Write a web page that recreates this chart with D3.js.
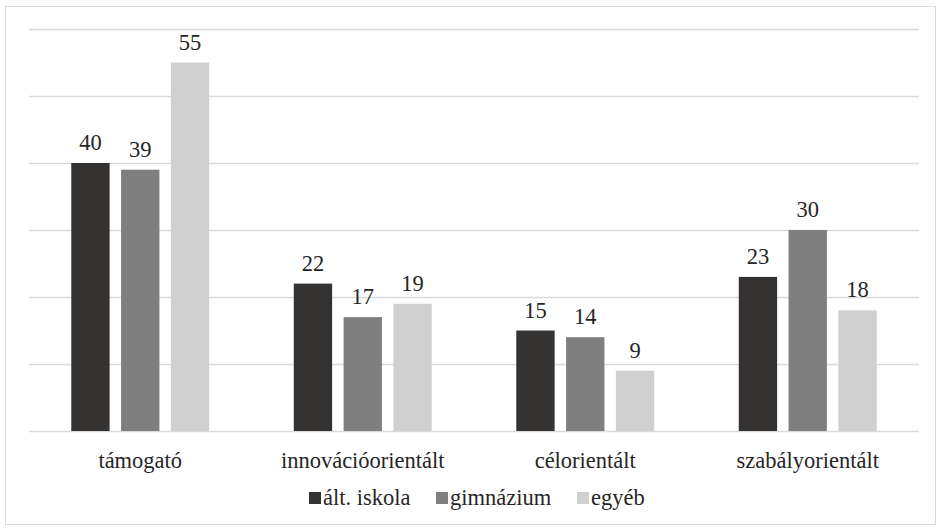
<!DOCTYPE html>
<html>
<head>
<meta charset="utf-8">
<script src="https://cdn.jsdelivr.net/npm/d3@7"></script>
<style>
  body { margin: 0; background: #fff; font-family: 'Times New Roman', 'Liberation Serif', serif; }
  svg, svg text { font-family: 'Times New Roman', 'Liberation Serif', serif; }
</style>
</head>
<body>
<svg id="chart" width="941" height="531" style="font-family: 'Times New Roman', 'Liberation Serif', serif;"></svg>
<script>
// Data
var categories = ["támogató", "innovációorientált", "célorientált", "szabályorientált"];
var seriesNames = ["ált. iskola", "gimnázium", "egyéb"];
var altIskola = [40, 22, 15, 23];
var gimnazium = [39, 17, 14, 30];
var egyeb = [55, 19, 9, 18];
var yTicks = [0, 10, 20, 30, 40, 50, 60];

var seriesValues = [altIskola, gimnazium, egyeb];
var colours = ["#353331", "#7f7f7f", "#d0d0d0"];
var fontSize = "22.5px";
var textColour = "#262626";

var svgwidth = 941, svgheight = 531;
var margin = {top: 29, bottom: 100, left: 29, right: 22};

var svg = d3.select("#chart");

// outer frame
svg.append("rect")
    .attr("x", 5.5).attr("y", 6.5)
    .attr("width", svgwidth - 11).attr("height", svgheight - 13)
    .attr("fill", "none")
    .attr("stroke", "#d9d9d9");

// Scales
var x0 = d3.scaleBand().domain(categories).range([margin.left, svgwidth - margin.right]);
var x1 = d3.scaleBand().domain(seriesNames)
    .range([x0.bandwidth() * 0.19, x0.bandwidth() * 0.81])
    .paddingInner(0.23).paddingOuter(0);
var y = d3.scaleLinear().domain([0, 60]).range([svgheight - margin.bottom, margin.top]);

// gridlines
svg.selectAll(".grid")
    .data(yTicks)
    .enter().append("line")
    .attr("class", "grid")
    .attr("x1", margin.left).attr("x2", svgwidth - margin.right)
    .attr("y1", function(d){ return Math.round(y(d)) + 0.5; })
    .attr("y2", function(d){ return Math.round(y(d)) + 0.5; })
    .attr("stroke", "#d9d9d9")
    .attr("stroke-width", 1.5);

// bars
var rows = [];
categories.forEach(function(c, i){
    seriesNames.forEach(function(s, j){
        rows.push({cat: c, series: s, idx: j, value: seriesValues[j][i]});
    });
});

svg.selectAll(".bar")
    .data(rows)
    .enter().append("rect")
    .attr("class", "bar")
    .attr("x", function(d){ return x0(d.cat) + x1(d.series); })
    .attr("y", function(d){ return y(d.value); })
    .attr("width", x1.bandwidth())
    .attr("height", function(d){ return y(0) - y(d.value); })
    .attr("fill", function(d){ return colours[d.idx]; });

// value labels
svg.selectAll(".lbl")
    .data(rows)
    .enter().append("text")
    .attr("class", "lbl")
    .attr("x", function(d){ return x0(d.cat) + x1(d.series) + x1.bandwidth() / 2; })
    .attr("y", function(d){ return y(d.value) - 13; })
    .attr("text-anchor", "middle")
    .attr("fill", textColour)
    .style("font-size", fontSize)
    .text(function(d){ return d.value; });

// category labels
svg.selectAll(".cat")
    .data(categories)
    .enter().append("text")
    .attr("class", "cat")
    .attr("x", function(d){ return x0(d) + x0.bandwidth() / 2; })
    .attr("y", y(0) + 37)
    .attr("text-anchor", "middle")
    .attr("fill", textColour)
    .style("font-size", fontSize)
    .text(function(d){ return d; });

// legend
var legendX = [309, 436, 577];
var legendY = 505;
svg.selectAll(".lgbox")
    .data(seriesNames)
    .enter().append("rect")
    .attr("class", "lgbox")
    .attr("x", function(d, i){ return legendX[i]; })
    .attr("y", legendY - 13)
    .attr("width", 12).attr("height", 12)
    .attr("fill", function(d, i){ return colours[i]; });
svg.selectAll(".lgtext")
    .data(seriesNames)
    .enter().append("text")
    .attr("class", "lgtext")
    .attr("x", function(d, i){ return legendX[i] + 14; })
    .attr("y", legendY)
    .attr("fill", textColour)
    .style("font-size", fontSize)
    .text(function(d){ return d; });
</script>
</body>
</html>
